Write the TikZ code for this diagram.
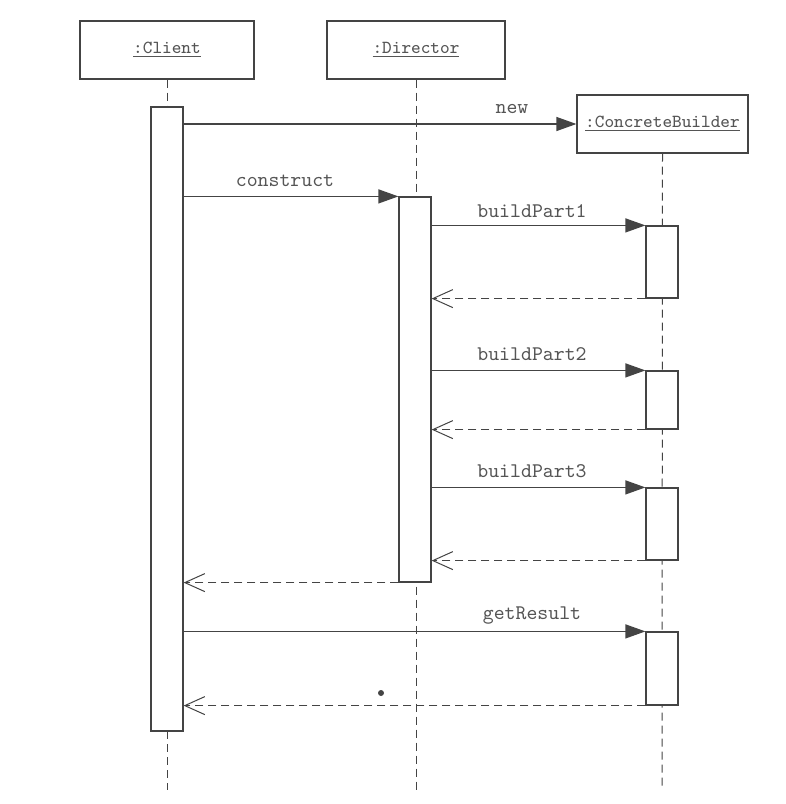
\documentclass[tikz,border=0pt]{standalone}
\usepackage{fontspec}
\usetikzlibrary{arrows.meta,calc}
\definecolor{ln}{HTML}{444444}
\definecolor{tx}{HTML}{555555}
\tikzset{
  obj/.style={draw=ln, line width=0.6pt, fill=white, minimum height=29pt, inner sep=0pt, font=\ttfamily\fontsize{9.2}{11}\selectfont, text=tx},
  act/.style={draw=ln, line width=0.6pt, fill=white, minimum width=16pt, inner sep=0pt},
  life/.style={draw=ln, line width=0.5pt, dash pattern=on 4pt off 2.5pt},
  call/.style={draw=ln, line width=0.6pt, -{Triangle[length=10pt,width=7pt]}},
  ret/.style={draw=ln, line width=0.5pt, dash pattern=on 4pt off 2.5pt, -{Straight Barb[length=10pt,width=9pt,line width=0.5pt]}},
  lbl/.style={font=\ttfamily\fontsize{10.4}{12}\selectfont, text=tx, inner sep=0pt}
}
\begin{document}
\begin{tikzpicture}[x=0.5pt,y=-0.5pt]
\useasboundingbox[fill=white] (0,0) rectangle (786,804);
% objects
\node[obj, minimum width=87pt] (client) at (167,50) {\underline{:Client}};
\node[obj, minimum width=89pt] (director) at (416,50) {\underline{:Director}};
\node[obj, minimum width=85.5pt] (builder) at (662.5,124) {\underline{:ConcreteBuilder}};
\coordinate (cend) at (167,790);
\coordinate (dend) at (416,790);
\coordinate (bend) at (662,790);
% lifelines
\draw[life] (director.south) -- (dend);
\draw[life] (builder.south) -- (bend);
\draw[life] (client.south) -- (167,107);
\draw[life] (167,731) -- (cend);
% activations
\node[act, minimum height=312pt] (ca) at (167,419) {};
\node[act, minimum height=192.5pt] (da) at (415,389.5) {};
\node[act, minimum height=36pt] (cb1) at (662,262) {};
\node[act, minimum height=29pt] (cb2) at (662,400) {};
\node[act, minimum height=36pt] (cb3) at (662,524) {};
\node[act, minimum height=36.5pt] (cb4) at (662,668.5) {};
% messages
\draw[call] (ca.east |- builder.west) -- (builder.west);
\draw[call] (ca.east |- da.north) -- (da.north west);
\draw[call] (da.east |- cb1.north) -- (cb1.north west);
\draw[ret] (cb1.south west) -- (da.east |- cb1.south);
\draw[call] (da.east |- cb2.north) -- (cb2.north west);
\draw[ret] (cb2.south west) -- (da.east |- cb2.south);
\draw[call] (da.east |- cb3.north) -- (cb3.north west);
\draw[ret] (cb3.south west) -- (da.east |- cb3.south);
\draw[ret] (da.south west) -- (ca.east |- da.south);
\draw[call] (ca.east |- cb4.north) -- (cb4.north west);
\draw[ret] (cb4.south west) -- (ca.east |- cb4.south);
% labels
\node[lbl] (lnew) at (512,109) {new};
\node[lbl] (lcon) at (285,181) {construct};
\node[lbl] (lb1) at (532,211) {buildPart1};
\node[lbl] (lb2) at (532,354) {buildPart2};
\node[lbl] (lb3) at (532,471) {buildPart3};
\node[lbl] (lgr) at (532,616) {getResult};
% stray mark
\fill[ln] (381,693) circle (1.5pt);
\end{tikzpicture}
\end{document}
